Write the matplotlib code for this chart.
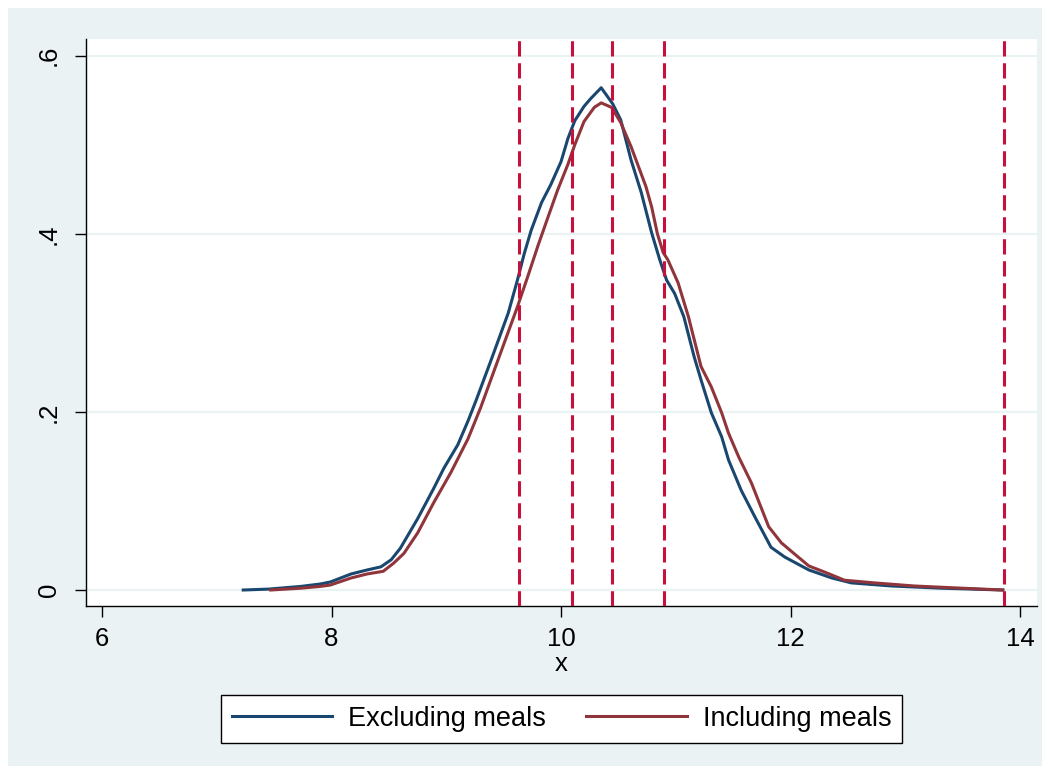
import numpy as np
import matplotlib.pyplot as plt
from matplotlib.patches import Rectangle

plt.rcParams['font.family'] = ['Liberation Sans', 'DejaVu Sans']

# kernel density estimates, read off as (x, density) pairs
excl_x = [7.23, 7.45, 7.73, 7.90, 7.99, 8.17, 8.31, 8.43, 8.52, 8.60, 8.75, 8.89,
          8.98, 9.10, 9.19, 9.26, 9.39, 9.54, 9.62, 9.68, 9.74, 9.83, 9.91, 10.00,
          10.06, 10.12, 10.20, 10.26, 10.35, 10.45, 10.52, 10.61, 10.70, 10.79,
          10.86, 10.92, 10.99, 11.07, 11.16, 11.22, 11.31, 11.40, 11.46, 11.57,
          11.69, 11.83, 11.95, 12.16, 12.36, 12.53, 12.88, 13.32, 13.85]
excl_y = [0.000, 0.001, 0.004, 0.0067, 0.009, 0.018, 0.0225, 0.026, 0.034, 0.047,
          0.080, 0.114, 0.137, 0.163, 0.190, 0.213, 0.258, 0.311, 0.348, 0.378,
          0.404, 0.435, 0.455, 0.481, 0.507, 0.527, 0.543, 0.552, 0.564, 0.546,
          0.528, 0.483, 0.446, 0.401, 0.371, 0.348, 0.333, 0.307, 0.262, 0.236,
          0.199, 0.172, 0.146, 0.112, 0.082, 0.048, 0.037, 0.0225, 0.0135, 0.008,
          0.0045, 0.002, 0.000]

incl_x = [7.47, 7.73, 7.90, 7.99, 8.17, 8.31, 8.45, 8.54, 8.63, 8.75, 8.89, 9.04,
          9.19, 9.30, 9.45, 9.62, 9.71, 9.80, 9.89, 9.97, 10.06, 10.12, 10.20,
          10.29, 10.35, 10.44, 10.52, 10.61, 10.74, 10.79, 10.84, 10.89, 10.93,
          11.02, 11.11, 11.22, 11.31, 11.40, 11.46, 11.55, 11.66, 11.81, 11.92,
          12.03, 12.16, 12.30, 12.47, 12.73, 13.08, 13.50, 13.85]
incl_y = [0.000, 0.002, 0.004, 0.0056, 0.0135, 0.018, 0.021, 0.030, 0.041, 0.064,
          0.098, 0.132, 0.170, 0.205, 0.258, 0.318, 0.352, 0.387, 0.420, 0.449,
          0.478, 0.500, 0.526, 0.542, 0.547, 0.542, 0.525, 0.498, 0.453, 0.430,
          0.400, 0.379, 0.371, 0.345, 0.307, 0.251, 0.228, 0.199, 0.176, 0.149,
          0.120, 0.071, 0.053, 0.041, 0.027, 0.020, 0.011, 0.008, 0.0045, 0.002,
          0.000]

xlines = [9.63, 10.096, 10.445, 10.90, 13.86]

xticks = [6, 8, 10, 12, 14]
yticks = [0, 0.2, 0.4, 0.6]
ytick_labels = ['0', '.2', '.4', '.6']

bg = '#EAF2F3'
navy = '#1A476F'
maroon = '#90353B'

fig = plt.figure(figsize=(10.5, 7.73), dpi=100, facecolor='white')
fig.patches.append(Rectangle((0.0076, 0.0090), 0.9848, 0.9810,
                             transform=fig.transFigure, facecolor=bg,
                             edgecolor='none', zorder=-10))

ax = fig.add_axes([0.0819, 0.2160, 0.9057, 0.7335])
ax.set_facecolor('white')

for v in yticks:
    ax.axhline(v, color=bg, lw=1.6, zorder=1)

ax.plot(excl_x, excl_y, color=navy, lw=2.2, label='Excluding meals', zorder=2)
ax.plot(incl_x, incl_y, color=maroon, lw=2.2, label='Including meals', zorder=2)

for v in xlines:
    ax.axvline(v, color='#C8103C', lw=2.2, ls=(0, (5.0, 2.2)), zorder=3)

ax.set_xlim(5.86, 14.148)
ax.set_ylim(-0.018, 0.6187)
ax.set_xticks(xticks)
ax.set_yticks(yticks)
ax.set_yticklabels(ytick_labels, rotation=90, va='center')
ax.tick_params(axis='both', length=8, width=1, labelsize=18.5, direction='out')
ax.tick_params(axis='y', pad=10)
ax.tick_params(axis='x', pad=7)

for side in ['top', 'right']:
    ax.spines[side].set_visible(False)
for side in ['left', 'bottom']:
    ax.spines[side].set_linewidth(1)
    ax.spines[side].set_color('black')

ax.set_xlabel('x', fontsize=18.5, labelpad=1)

leg = fig.legend(loc='center', bbox_to_anchor=(0.5348, 0.0699), ncol=2,
                 fontsize=19.5, frameon=True, fancybox=False, framealpha=1,
                 handlelength=3.7, handletextpad=0.6, columnspacing=1.5,
                 borderpad=0.4)
leg.get_frame().set_edgecolor('black')
leg.get_frame().set_linewidth(1)
leg.get_frame().set_facecolor('white')

fig.savefig('out.png', dpi=100, facecolor='white')
